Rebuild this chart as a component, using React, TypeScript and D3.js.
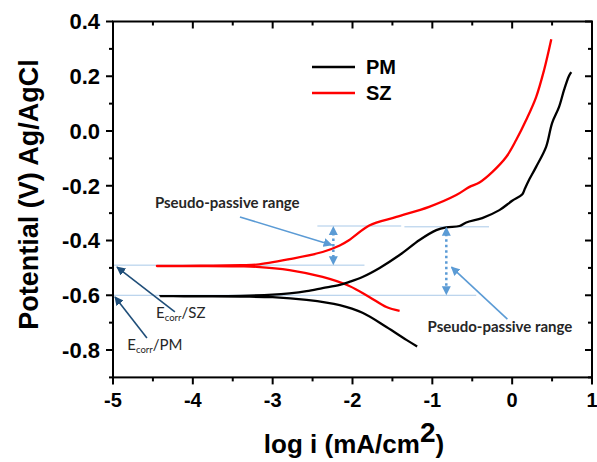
import React from 'react';
import * as d3 from 'd3';

const xTicks = [-5, -4, -3, -2, -1, 0, 1];
const yTicks = [0.4, 0.2, 0.0, -0.2, -0.4, -0.6, -0.8];
const seriesNames = ['PM', 'SZ'];
const seriesColors = ['#000000', '#ff0000'];

const pmCathodic: [number, number][] = [
  [-4.41, -0.603], [-3.9, -0.604], [-3.4, -0.605], [-3.0, -0.607], [-2.575, -0.617],
  [-2.16, -0.636], [-1.875, -0.664], [-1.575, -0.716], [-1.325, -0.763], [-1.19, -0.787],
];
const pmAnodic: [number, number][] = [
  [-4.41, -0.603], [-3.9, -0.603], [-3.4, -0.602], [-3.0, -0.598], [-2.79, -0.593],
  [-2.575, -0.585], [-2.375, -0.574], [-2.16, -0.562], [-2.04, -0.551], [-1.875, -0.533],
  [-1.66, -0.5], [-1.41, -0.453], [-1.16, -0.398], [-0.95, -0.362], [-0.825, -0.352],
  [-0.66, -0.347], [-0.575, -0.334], [-0.375, -0.318], [-0.16, -0.289], [0.0, -0.255],
  [0.125, -0.232], [0.16, -0.21], [0.2, -0.185], [0.3, -0.131], [0.425, -0.058],
  [0.5, 0.029], [0.5875, 0.088], [0.65, 0.15], [0.71, 0.2], [0.74, 0.215],
];
const szCathodic: [number, number][] = [
  [-4.45, -0.493], [-3.9, -0.493], [-3.4, -0.494], [-3.2, -0.496], [-2.79, -0.508],
  [-2.375, -0.533], [-2.04, -0.566], [-1.79, -0.606], [-1.575, -0.643], [-1.41, -0.657],
];
const szAnodic: [number, number][] = [
  [-4.45, -0.493], [-3.9, -0.492], [-3.4, -0.49], [-3.2, -0.488], [-2.79, -0.468],
  [-2.375, -0.442], [-2.16, -0.418], [-2.04, -0.398], [-1.79, -0.345], [-1.45, -0.314],
  [-1.04, -0.277], [-0.7, -0.234], [-0.54, -0.205], [-0.41, -0.188], [-0.25, -0.15],
  [-0.075, -0.095], [0.05, -0.033], [0.175, 0.04], [0.3, 0.124], [0.4, 0.223], [0.49, 0.335],
];

// reference lines: [E, logi start, logi end]
const refLines: [number, number, number][] = [
  [-0.49, -5, -1.85],
  [-0.6, -5, -0.45],
  [-0.347, -2.44, -1.39],
  [-0.35, -1.35, -0.29],
];
// dotted double arrows: [logi, E top, E bottom]
const rangeArrows: [number, number, number][] = [
  [-2.24, -0.347, -0.49],
  [-0.825, -0.35, -0.6],
];
// pointer arrows: [x0, y0, x1, y1]
const pointerArrowsLight: [number, number, number, number][] = [
  [-3.41, -0.314, -2.26, -0.416],
  [-0.06, -0.687, -0.76, -0.497],
];
const pointerArrowsDark: [number, number, number, number][] = [
  [-4.225, -0.661, -4.95, -0.497],
  [-4.575, -0.756, -4.975, -0.606],
];
const rangeLabels: [number, number][] = [
  [-4.475, -0.281],
  [-1.06, -0.734],
];
const ecorrLabels: [string, number, number][] = [
  ['SZ', -4.46, -0.683],
  ['PM', -4.82, -0.8],
];

export default function App() {
  const W = 597;
  const H = 462;
  const x = d3.scaleLinear().domain([-5, 1]).range([113, 592]);
  const y = d3.scaleLinear().domain([-0.9, 0.4]).range([377.4, 21.5]);
  const line = d3
    .line<[number, number]>()
    .x((d) => x(d[0]))
    .y((d) => y(d[1]))
    .curve(d3.curveCatmullRom.alpha(0.5));

  const pmPath = [...pmCathodic].reverse().concat(pmAnodic.slice(1));
  const szPath = [...szCathodic].reverse().concat(szAnodic.slice(1));

  const xMinor = d3.range(-5, 1.001, 0.5);
  const yMinor = d3.range(-0.9, 0.4001, 0.1);
  const L = x(-5), R = x(1), T = y(0.4), B = y(-0.9);
  const tickFont = "'Liberation Sans', Arial, sans-serif";
  const annFont = "Lato, 'Open Sans', sans-serif";
  const light = '#5b9bd5';
  const dark = '#1f4e79';

  return (
    <svg width={W} height={H} style={{ position: 'absolute', left: 0, top: 0, background: '#fff' }}>
      <defs>
        <marker id="ahL" viewBox="0 0 10 10" refX="9" refY="5" markerWidth="9" markerHeight="9" markerUnits="userSpaceOnUse" orient="auto">
          <path d="M0,0 L10,5 L0,10 z" fill={light} />
        </marker>
        <marker id="ahD" viewBox="0 0 10 10" refX="9" refY="5" markerWidth="9" markerHeight="9" markerUnits="userSpaceOnUse" orient="auto">
          <path d="M0,0 L10,5 L0,10 z" fill={dark} />
        </marker>
      </defs>

      {/* reference lines */}
      {refLines.map((r, i) => (
        <line key={'r' + i} x1={x(r[1])} x2={x(r[2])} y1={y(r[0])} y2={y(r[0])} stroke="#a9c9e8" strokeWidth={1} />
      ))}

      {/* curves */}
      <path d={line(szPath) || ''} fill="none" stroke={seriesColors[1]} strokeWidth={2.3} strokeLinejoin="round" />
      <path d={line(pmPath) || ''} fill="none" stroke={seriesColors[0]} strokeWidth={2.3} strokeLinejoin="round" />

      {/* dotted range arrows */}
      {rangeArrows.map((a, i) => (
        <g key={'ra' + i}>
          <line x1={x(a[0])} x2={x(a[0])} y1={y(a[1]) + 7} y2={y(a[2]) - 7} stroke={light} strokeWidth={2.5} strokeDasharray="2.5,3" />
          <path d={`M${x(a[0]) - 4.5},${y(a[1]) + 9} L${x(a[0]) + 4.5},${y(a[1]) + 9} L${x(a[0])},${y(a[1])} z`} fill={light} />
          <path d={`M${x(a[0]) - 4.5},${y(a[2]) - 9} L${x(a[0]) + 4.5},${y(a[2]) - 9} L${x(a[0])},${y(a[2])} z`} fill={light} />
        </g>
      ))}

      {/* pointer arrows */}
      {pointerArrowsLight.map((a, i) => (
        <line key={'pl' + i} x1={x(a[0])} y1={y(a[1])} x2={x(a[2])} y2={y(a[3])} stroke={light} strokeWidth={1.6} markerEnd="url(#ahL)" />
      ))}
      {pointerArrowsDark.map((a, i) => (
        <line key={'pd' + i} x1={x(a[0])} y1={y(a[1])} x2={x(a[2])} y2={y(a[3])} stroke={dark} strokeWidth={1.6} markerEnd="url(#ahD)" />
      ))}

      {/* annotation text */}
      {rangeLabels.map((p, i) => (
        <text key={'rl' + i} x={x(p[0])} y={y(p[1])} fontFamily={annFont} fontWeight={700} fontSize={15} fill="#262626">
          Pseudo-passive range
        </text>
      ))}
      {ecorrLabels.map((p, i) => (
        <text key={'el' + i} x={x(p[1])} y={y(p[2])} fontFamily={annFont} fontSize={15} fill="#262626">
          E<tspan fontSize={9.5} dy={3}>corr</tspan>
          <tspan dy={-3}>/{p[0]}</tspan>
        </text>
      ))}

      {/* frame */}
      <rect x={L} y={T} width={R - L} height={B - T} fill="none" stroke="#000" strokeWidth={2} />

      {/* x ticks */}
      {xMinor.map((v, i) => {
        const major = Math.abs(v - Math.round(v)) < 1e-6;
        const len = major ? 7 : 4;
        return (
          <g key={'xt' + i}>
            <line x1={x(v)} x2={x(v)} y1={B} y2={B + len} stroke="#000" strokeWidth={2} />
            <line x1={x(v)} x2={x(v)} y1={T} y2={T + len} stroke="#000" strokeWidth={2} />
          </g>
        );
      })}
      {xTicks.map((v) => (
        <text key={'xl' + v} x={x(v)} y={407} textAnchor="middle" fontFamily={tickFont} fontWeight="bold" fontSize={20}>
          {String(v)}
        </text>
      ))}

      {/* y ticks */}
      {yMinor.map((v, i) => {
        const major = Math.abs(v * 5 - Math.round(v * 5)) < 1e-6;
        const len = major ? 7 : 4;
        return (
          <g key={'yt' + i}>
            <line x1={L - len} x2={L} y1={y(v)} y2={y(v)} stroke="#000" strokeWidth={2} />
            <line x1={R - len} x2={R} y1={y(v)} y2={y(v)} stroke="#000" strokeWidth={2} />
          </g>
        );
      })}
      {yTicks.map((v) => (
        <text key={'yl' + v} x={100} y={y(v)} dy="0.36em" textAnchor="end" fontFamily={tickFont} fontWeight="bold" fontSize={22}>
          {v.toFixed(1)}
        </text>
      ))}

      {/* axis titles */}
      <text x={354} y={453} textAnchor="middle" fontFamily={tickFont} fontWeight="bold" fontSize={26}>
        log i (mA/cm<tspan fontSize={28} dy={-11}>2</tspan>
        <tspan dy={11}>)</tspan>
      </text>
      <text
        transform={`translate(38,${(T + B) / 2 - 5}) rotate(-90)`}
        textAnchor="middle"
        fontFamily={tickFont}
        fontWeight="bold"
        fontSize={27}
      >
        Potential (V) Ag/AgCl
      </text>

      {/* legend */}
      {seriesNames.map((n, i) => (
        <g key={'lg' + i}>
          <line x1={312} x2={355} y1={67 + i * 26} y2={67 + i * 26} stroke={seriesColors[i]} strokeWidth={2.5} />
          <text x={366} y={67 + i * 26} dy="0.36em" fontFamily={tickFont} fontWeight="bold" fontSize={20}>
            {n}
          </text>
        </g>
      ))}
    </svg>
  );
}
